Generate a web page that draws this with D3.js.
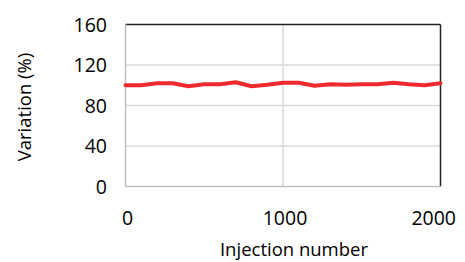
<!DOCTYPE html>
<html>
<head>
<meta charset="utf-8">
<script src="https://cdn.jsdelivr.net/npm/d3@7"></script>
<style>
  body { margin: 0; background: #fff; }
  text { font-family: "Open Sans", sans-serif; fill: #000; }
</style>
</head>
<body>
<div id="chart"></div>
<script>
var injections = [0, 100, 200, 300, 400, 500, 600, 700, 800, 900, 1000,
                  1100, 1200, 1300, 1400, 1500, 1600, 1700, 1800, 1900, 2000];
var variation = [100, 100, 102, 102, 99, 101, 101, 103, 99, 100.5, 102.5,
                 102.5, 99.5, 101, 100.5, 101, 101, 102.5, 101, 100, 102];
var xTicks = [0, 1000, 2000];
var yTicks = [0, 40, 80, 120, 160];

var width = 465, height = 262;
var plotLeft = 125.5, plotRight = 440.5, plotTop = 24.5, plotBottom = 186.5;

var svg = d3.select("#chart")
    .append("svg")
    .attr("width", width)
    .attr("height", height);

var x = d3.scaleLinear().domain([0, 2000]).range([plotLeft, plotRight]);
var y = d3.scaleLinear().domain([0, 160]).range([plotBottom, plotTop]);

// gridlines
svg.selectAll(".hgrid")
    .data(yTicks.slice(1, -1))
    .enter().append("line")
    .attr("x1", plotLeft).attr("x2", plotRight)
    .attr("y1", function(d) { return y(d); })
    .attr("y2", function(d) { return y(d); })
    .attr("stroke", "#d9d9d9")
    .attr("stroke-width", 1.5);

svg.append("line")
    .attr("x1", x(1000)).attr("x2", x(1000))
    .attr("y1", plotTop).attr("y2", plotBottom)
    .attr("stroke", "#d9d9d9")
    .attr("stroke-width", 1.5);

// frame: top and right dark, left and bottom grey
svg.append("line").attr("x1", plotLeft).attr("x2", plotRight).attr("y1", plotTop).attr("y2", plotTop)
    .attr("stroke", "#222").attr("stroke-width", 1.5);
svg.append("line").attr("x1", plotRight).attr("x2", plotRight).attr("y1", plotTop).attr("y2", plotBottom)
    .attr("stroke", "#222").attr("stroke-width", 1.5);
svg.append("line").attr("x1", plotLeft).attr("x2", plotLeft).attr("y1", plotTop).attr("y2", plotBottom)
    .attr("stroke", "#bfbfbf").attr("stroke-width", 1.5);
svg.append("line").attr("x1", plotLeft).attr("x2", plotRight).attr("y1", plotBottom).attr("y2", plotBottom)
    .attr("stroke", "#bfbfbf").attr("stroke-width", 1.5);

// y tick labels
svg.selectAll(".ylab")
    .data(yTicks)
    .enter().append("text")
    .attr("x", 107)
    .attr("y", function(d) { return y(d); })
    .attr("dy", "0.36em")
    .attr("text-anchor", "end")
    .attr("font-size", 19.5)
    .text(function(d) { return d; });

// x tick labels
svg.selectAll(".xlab")
    .data(xTicks)
    .enter().append("text")
    .attr("x", function(d, i) { return i == xTicks.length - 1 ? 456 : x(d) + 2; })
    .attr("y", 225)
    .attr("text-anchor", function(d, i) { return i == xTicks.length - 1 ? "end" : "middle"; })
    .attr("font-size", 19.5)
    .text(function(d) { return d; });

// axis titles
svg.append("text")
    .attr("x", 294)
    .attr("y", 256)
    .attr("text-anchor", "middle")
    .attr("font-size", 18.5)
    .text("Injection number");

svg.append("text")
    .attr("transform", "translate(31," + 107 + ") rotate(-90)")
    .attr("text-anchor", "middle")
    .attr("font-size", 18.5)
    .text("Variation (%)");

// series
var line = d3.line()
    .x(function(d, i) { return x(injections[i]); })
    .y(function(d) { return y(d); });

svg.append("path")
    .datum(variation)
    .attr("d", line)
    .attr("fill", "none")
    .attr("stroke", "#ee2a2e")
    .attr("stroke-width", 4)
    .attr("stroke-linejoin", "round")
    .attr("stroke-linecap", "round");
</script>
</body>
</html>
